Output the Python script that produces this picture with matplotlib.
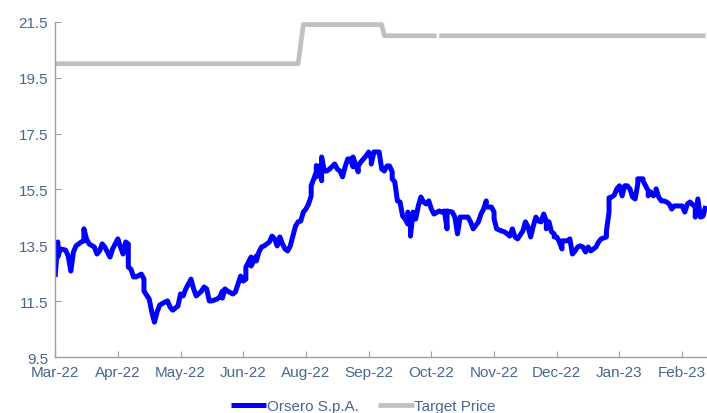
import matplotlib
matplotlib.use("Agg")
import matplotlib.pyplot as plt
import numpy as np

plt.rcParams['font.family'] = ['Liberation Sans', 'DejaVu Sans']

# trading session index (0 = start of Mar-22) and closing price
price_day = [0, 1, 1, 2, 4, 5, 6, 7, 8, 10, 11, 11, 12, 13, 15, 16, 17, 18, 19, 21,
             22, 24, 25, 26, 27, 28, 28, 29, 30, 31, 33, 34, 34, 36, 37, 38, 39, 40, 42, 43,
             44, 45, 47, 48, 49, 50, 52, 53, 54, 56, 57, 58, 59, 60, 62, 63, 64, 64, 65, 66,
             68, 69, 70, 71, 72, 73, 73, 75, 75, 77, 77, 78, 79, 80, 82, 83, 84, 85, 86, 87,
             88, 89, 90, 91, 92, 93, 94, 95, 96, 97, 98, 98, 100, 100, 100, 101, 102, 102, 103, 104,
             105, 107, 108, 109, 110, 111, 112, 113, 114, 114, 116, 116, 117, 118, 119, 120, 121, 121, 122, 124,
             124, 125, 126, 127, 128, 129, 129, 130, 131, 132, 133, 134, 135, 135, 136, 136, 137, 138, 139, 140,
             141, 142, 143, 144, 145, 147, 148, 149, 150, 150, 152, 153, 154, 155, 156, 158, 159, 160, 162, 163,
             164, 165, 165, 167, 168, 168, 169, 171, 172, 173, 174, 175, 176, 177, 179, 180, 181, 182, 183, 184,
             185, 186, 187, 188, 188, 189, 190, 191, 191, 192, 193, 194, 194, 196, 197, 198, 199, 200, 201, 202,
             203, 204, 205, 206, 207, 208, 209, 211, 211, 212, 212, 213, 214, 215, 216, 217, 218, 219, 220, 221,
             222, 223, 223, 225, 225, 227, 227, 228, 229, 230, 230, 231, 232, 233, 234, 235, 236, 237, 238, 240,
             241, 242, 243, 245, 245, 246, 247, 248, 248, 249]
price = [12.37, 13.62, 13.08, 13.37, 13.33, 13.12, 12.58, 13.26, 13.48, 13.62, 13.66, 14.09, 13.73, 13.55, 13.44, 13.19, 13.30, 13.55, 13.44, 13.08,
         13.37, 13.73, 13.44, 13.19, 13.62, 13.55, 12.72, 12.65, 12.37, 12.37, 12.47, 12.29, 11.86, 11.58, 11.11, 10.75, 11.11, 11.36, 11.47, 11.51,
         11.29, 11.18, 11.33, 11.76, 11.69, 11.94, 12.29, 11.94, 11.69, 11.86, 12.01, 11.94, 11.51, 11.51, 11.58, 11.65, 11.86, 11.61, 11.94, 11.86,
         11.76, 11.83, 12.12, 12.40, 12.22, 12.29, 12.72, 13.08, 12.76, 13.12, 12.94, 13.26, 13.44, 13.48, 13.62, 13.83, 13.73, 13.48, 13.80, 13.55,
         13.37, 13.30, 13.48, 13.83, 14.19, 14.34, 14.37, 14.69, 14.80, 14.98, 15.27, 15.63, 16.13, 16.34, 15.95, 16.34, 15.81, 16.66, 16.16, 16.16,
         16.23, 16.41, 16.23, 16.16, 15.95, 16.31, 16.59, 16.59, 16.31, 16.66, 16.13, 16.34, 16.48, 16.59, 16.70, 16.84, 16.59, 16.41, 16.84, 16.84,
         16.84, 16.23, 16.16, 16.34, 16.34, 16.13, 15.88, 15.77, 15.09, 15.05, 14.55, 14.44, 14.26, 14.69, 14.34, 13.83, 14.69, 14.44, 14.91, 15.23,
         15.05, 14.98, 15.09, 14.80, 14.62, 14.73, 14.69, 14.73, 14.09, 14.73, 14.69, 14.51, 13.91, 14.51, 14.51, 14.51, 14.34, 14.09, 14.34, 14.62,
         14.80, 15.09, 14.87, 14.87, 14.69, 14.44, 14.09, 14.01, 13.98, 13.91, 13.83, 14.09, 13.80, 13.73, 14.01, 14.34, 14.16, 13.80, 14.19, 14.51,
         14.37, 14.34, 14.62, 14.37, 14.09, 14.34, 13.98, 13.91, 13.80, 13.80, 13.62, 13.37, 13.66, 13.66, 13.73, 13.19, 13.30, 13.44, 13.48, 13.44,
         13.26, 13.44, 13.30, 13.37, 13.44, 13.62, 13.73, 13.80, 14.01, 14.69, 15.20, 15.23, 15.30, 15.52, 15.63, 15.27, 15.63, 15.63, 15.52, 15.23,
         15.16, 15.70, 15.88, 15.88, 15.81, 15.45, 15.27, 15.41, 15.27, 15.41, 15.52, 15.23, 15.09, 15.09, 15.05, 14.98, 14.80, 14.91, 14.91, 14.91,
         14.69, 14.98, 15.05, 14.87, 14.51, 15.16, 14.51, 14.55, 14.55, 14.91]

# target price steps (nan = missing value between sessions 146 and 147)
target_day = [0, 93, 95, 125, 126, 146, 146, 147, 249]
target = [20.0, 20.0, 21.4, 21.4, 21.0, 21.0, np.nan, 21.0, 21.0]

tick_days = [0, 24, 48, 72, 96, 120, 144, 168, 192, 216, 240]
tick_labels = ['Mar-22', 'Apr-22', 'May-22', 'Jun-22', 'Aug-22', 'Sep-22',
               'Oct-22', 'Nov-22', 'Dec-22', 'Jan-23', 'Feb-23']
y_ticks = [9.5, 11.5, 13.5, 15.5, 17.5, 19.5, 21.5]

text_color = '#4A6591'
axis_color = '#A0A0A0'

fig = plt.figure(figsize=(7.07, 4.14), dpi=100)
ax = fig.add_axes([0.078, 0.135, 0.922, 0.81])

ax.plot(price_day, price, color='#0000FF', lw=3.6, label='Orsero S.p.A.',
        solid_joinstyle='round', solid_capstyle='butt')
ax.plot(target_day, target, color='#C0C0C0', lw=3.4, label='Target Price',
        solid_capstyle='butt')

ax.set_xlim(0, 249.5)
ax.set_ylim(9.5, 21.5)
ax.set_xticks(tick_days)
ax.set_xticklabels(tick_labels)
ax.set_yticks(y_ticks)
ax.set_yticklabels(['%.1f' % v for v in y_ticks])

for side in ['top', 'right']:
    ax.spines[side].set_visible(False)
for side in ['left', 'bottom']:
    ax.spines[side].set_color(axis_color)
    ax.spines[side].set_linewidth(1.0)

ax.tick_params(axis='both', direction='in', length=4, color=axis_color,
               labelsize=11, labelcolor=text_color)
ax.tick_params(axis='x', pad=6)
ax.tick_params(axis='y', pad=5)

fig.legend(loc='center', bbox_to_anchor=(0.514, 0.016), ncol=2, frameon=False,
           fontsize=11, handlelength=2.3, handletextpad=0.05, columnspacing=1.3,
           labelcolor=text_color)

fig.savefig('out.png', dpi=100)
